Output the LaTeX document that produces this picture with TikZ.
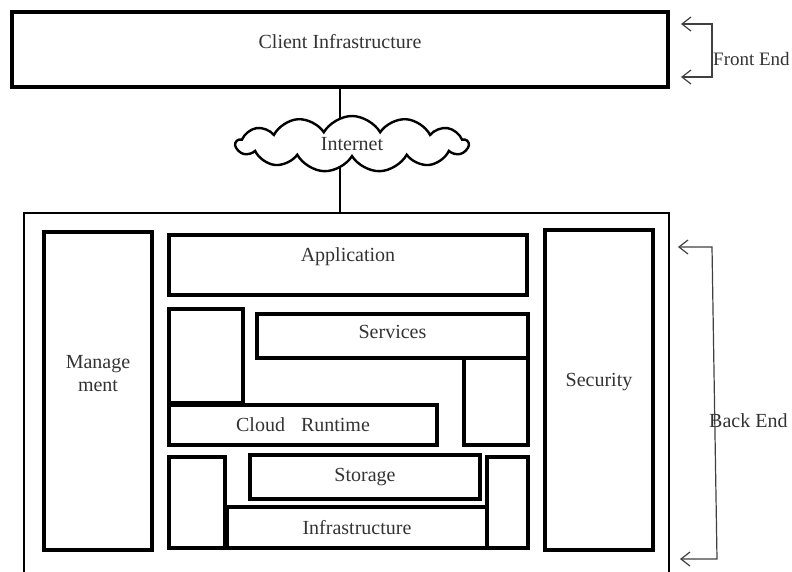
\documentclass[tikz,border=0pt]{standalone}
\usepackage{fontspec}
\setmainfont{Liberation Serif}
\usetikzlibrary{shapes.symbols,arrows.meta}
\tikzset{
	box/.style={draw,line width=3.2pt,rectangle,inner sep=0pt,text=black!80},
	brace/.style={draw=black!75,line width=1.2pt,{Straight Barb[length=9pt,width=14pt]}-{Straight Barb[length=9pt,width=14pt]}}
}
\begin{document}
\begin{tikzpicture}[x=1pt,y=-1pt,font=\fontsize{20}{23}\selectfont]
	  \useasboundingbox (0,0) rectangle (792,571);
	  \node (client) [box,minimum width=656pt,minimum height=75pt,text depth=17pt] at (340,49.5) {Client Infrastructure};
	  \node (back) [draw,line width=2.4pt,rectangle,inner sep=0pt,minimum width=645pt,minimum height=387pt] at (346.5,406.5) {};
	  \draw[line width=1.6pt] (client.south) -- (client.south |- back.north);
	  \node (cloud) [draw,fill=white,cloud,cloud puffs=13,cloud puff arc=120,aspect=4.1,line width=2.4pt,minimum width=232pt,minimum height=56pt,inner sep=0pt,text=black!80] at (352,144) {Internet};
	  \node (mgmt) [box,minimum width=108pt,minimum height=318pt,align=center,text depth=36pt] at (98,391) {Manage\\ment};
	  \node (sec) [box,minimum width=108pt,minimum height=320pt,text depth=20pt] at (599,390) {Security};
	  \node (app) [box,minimum width=358pt,minimum height=60pt,text depth=20pt] at (348,265) {Application};
	  \node (lbox1) [box,minimum width=74pt,minimum height=94pt] at (206,356) {};
	  \node (serv) [box,minimum width=271pt,minimum height=44pt,text depth=8pt] at (392.5,336) {Services};
	  \node (rbox1) [box,minimum width=64pt,minimum height=87pt] at (496,401.5) {};
	  \node (runtime) [box,minimum width=268pt,minimum height=40pt] at (303,425) {Cloud\hspace{0.8em}Runtime};
	  \node (lbox2) [box,minimum width=56pt,minimum height=91pt] at (197,502.5) {};
	  \node (stor) [box,minimum width=230pt,minimum height=44pt] at (365,477) {Storage};
	  \node (infra) [box,minimum width=260pt,minimum height=41pt] at (357,527.5) {Infrastructure};
	  \node (rbox2) [box,minimum width=41pt,minimum height=91pt] at (507.5,502.5) {};
	  \coordinate (fe1) at (681,24);
	  \coordinate (fe2) at (681,77);
	  \coordinate (be1) at (678,247);
	  \coordinate (be2) at (680,559);
	  \draw[brace] (fe1) -- ++(31,0) |- (fe2);
	  \draw[brace] (be1) -- ++(34,0) -- (717,559) -- (be2);
	  \node (fe) [anchor=west,text=black!80,inner sep=0pt,font=\fontsize{19}{22}\selectfont] at (713,59) {Front End};
	  \node (be) [anchor=west,text=black!80,inner sep=0pt] at (709,421) {Back End};
	\end{tikzpicture}
\end{document}
